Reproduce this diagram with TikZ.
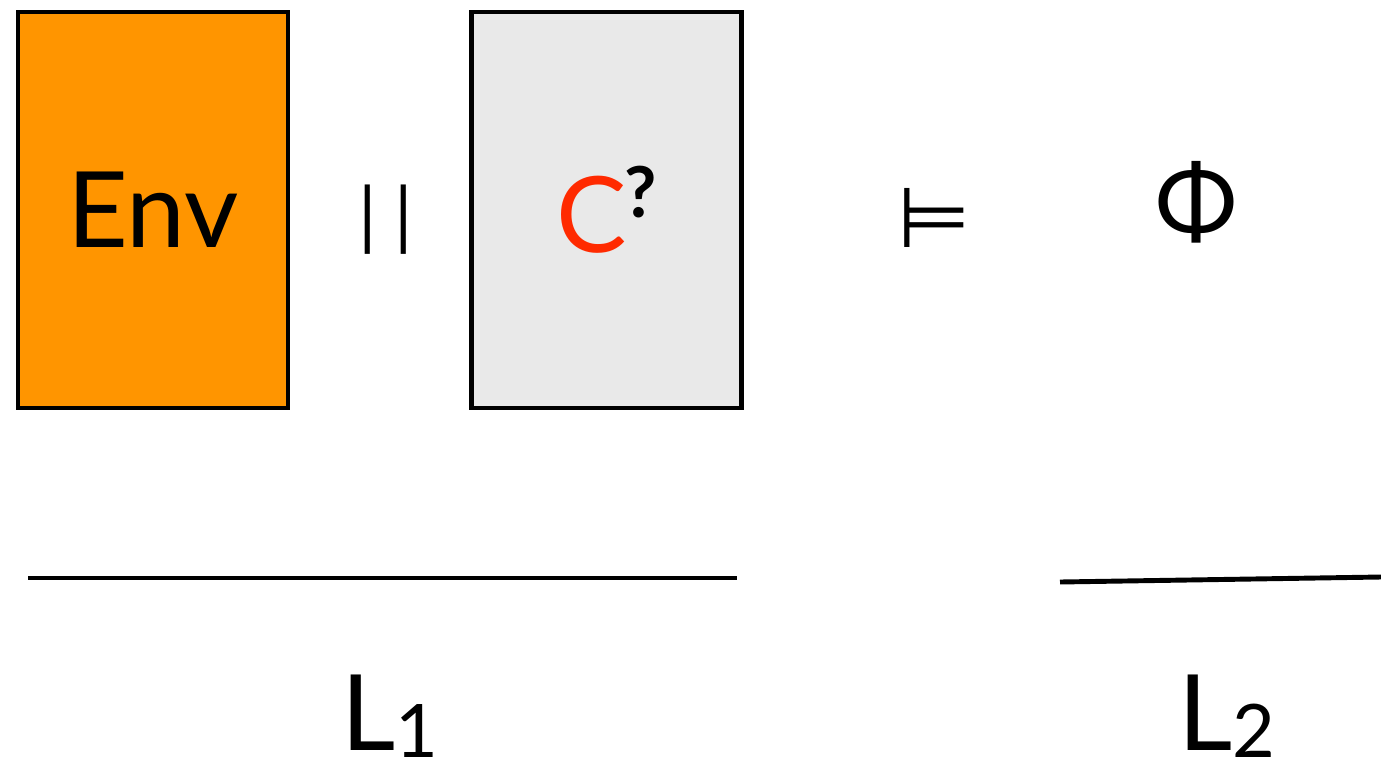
\documentclass[tikz,border=0pt]{standalone}
\usepackage{fontspec}
\setmainfont{Lato}
\newfontfamily\symfont{DejaVu Sans}
\usetikzlibrary{positioning}
\definecolor{envorange}{RGB}{255,149,0}
\definecolor{compgray}{RGB}{233,233,233}
\definecolor{compred}{RGB}{255,42,0}

\begin{document}
\begin{tikzpicture}[
  every node/.style={font=\fontsize{60}{60}\selectfont},
  blk/.style={rectangle, draw=black, line width=2.3pt,
              minimum width=5.4cm, minimum height=7.92cm, inner sep=0pt},
  rule/.style={line width=2.8pt}
]
  \useasboundingbox (0,0) rectangle (27.62,-15.26);
  \node[blk, fill=envorange] (env) at (3.06,-4.2) {Env};
  \node[blk, fill=compgray] (comp) at (12.13,-4.2)
    {\textcolor{compred}{C}\hspace{-0.05cm}\raisebox{0.7cm}{\fontsize{40}{40}\selectfont\bfseries ?}};
  \node[font=\fontsize{42}{42}\selectfont] (par) at (7.72,-4.4) {|\hspace{0.36cm}|};
  \node[font=\symfont\fontsize{48}{48}\selectfont] (models) at (18.68,-4.36) {⊨};
  \node[font=\fontsize{56}{56}\selectfont] (phi) at (23.92,-4.05) {Φ};
  % the two levels
  \draw[rule] (0.56,-11.56) -- (14.74,-11.56);
  \draw[rule] (21.2,-11.64) -- (27.62,-11.54);
  \node[anchor=base west, inner sep=0pt] (lone) at (6.82,-15.0)
    {L\raisebox{-0.14cm}{\fontsize{42}{42}\selectfont 1}};
  \node[anchor=base west, inner sep=0pt] (ltwo) at (23.56,-15.0)
    {L\raisebox{-0.14cm}{\fontsize{42}{42}\selectfont 2}};
\end{tikzpicture}
\end{document}
